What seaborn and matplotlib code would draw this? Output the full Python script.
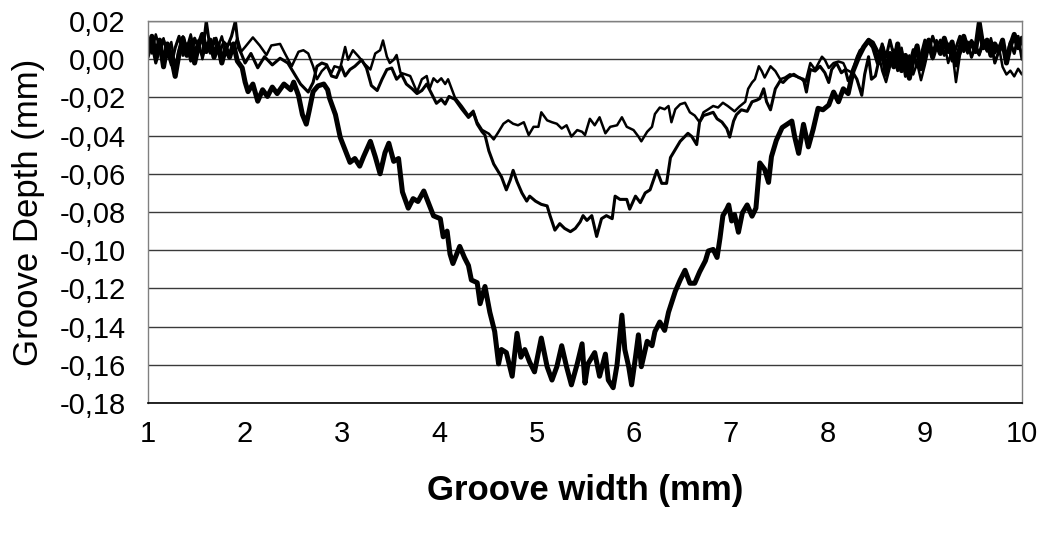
import numpy as np
import pandas as pd
import matplotlib
matplotlib.use('Agg')
import matplotlib.pyplot as plt
import seaborn as sns
from matplotlib.ticker import FuncFormatter, MultipleLocator

# profile readings (groove width in mm, depth in mm)
thin = [
    (1.00, 0.010), (1.04, 0.003), (1.08, 0.013), (1.12, 0.006), (1.16, 0.011), (1.20, 0.001),
    (1.24, 0.009), (1.28, -0.004), (1.32, 0.005), (1.36, 0.012), (1.40, 0.006), (1.44, 0.013),
    (1.48, 0.004), (1.52, 0.010), (1.56, 0.000), (1.60, 0.008), (1.64, 0.003), (1.68, 0.011),
    (1.72, 0.006), (1.76, 0.012), (1.80, 0.004), (1.84, 0.009), (1.88, 0.005), (1.92, 0.011),
    (1.96, 0.004), (2.00, 0.0064), (2.08, 0.0114), (2.15, 0.0072), (2.22, 0.0022), (2.27, 0.0072),
    (2.36, 0.0080), (2.41, 0.0030), (2.48, -0.0037), (2.55, 0.0039), (2.60, 0.0047), (2.65, 0.0030),
    (2.70, -0.0037), (2.74, -0.0105), (2.79, -0.0062), (2.84, -0.0037), (2.89, -0.0071), (2.92, -0.0037),
    (2.98, -0.0046), (3.03, 0.0064), (3.06, -0.0003), (3.11, 0.0047), (3.17, 0.0013), (3.22, -0.0020),
    (3.29, -0.0054), (3.34, 0.0030), (3.39, 0.0047), (3.42, 0.0098), (3.46, 0.0013), (3.49, -0.0020),
    (3.53, -0.0003), (3.56, 0.0022), (3.60, -0.0071), (3.65, -0.0079), (3.70, -0.0088), (3.77, -0.0172),
    (3.82, -0.0105), (3.87, -0.0088), (3.90, -0.0155), (3.94, -0.0100), (3.98, -0.0120), (4.02, -0.0100),
    (4.06, -0.0130), (4.09, -0.0105), (4.16, -0.0200), (4.23, -0.0245), (4.30, -0.0295), (4.35, -0.0270),
    (4.39, -0.0330), (4.44, -0.0370), (4.51, -0.0390), (4.56, -0.0420), (4.61, -0.0380), (4.66, -0.0338),
    (4.71, -0.0320), (4.76, -0.0338), (4.81, -0.0346), (4.87, -0.0330), (4.92, -0.0397), (4.97, -0.0354),
    (5.02, -0.0354), (5.05, -0.0278), (5.11, -0.0320), (5.16, -0.0330), (5.21, -0.0338), (5.26, -0.0363),
    (5.31, -0.0346), (5.36, -0.0405), (5.42, -0.0371), (5.47, -0.0380), (5.50, -0.0397), (5.55, -0.0312),
    (5.60, -0.0346), (5.65, -0.0304), (5.71, -0.0388), (5.76, -0.0354), (5.83, -0.0346), (5.88, -0.0304),
    (5.93, -0.0354), (6.00, -0.0371), (6.05, -0.0405), (6.08, -0.0430), (6.14, -0.0380), (6.19, -0.0354),
    (6.22, -0.0287), (6.27, -0.0253), (6.32, -0.0262), (6.36, -0.0245), (6.39, -0.0330), (6.43, -0.0262),
    (6.48, -0.0236), (6.53, -0.0228), (6.58, -0.0278), (6.63, -0.0295), (6.68, -0.0330), (6.72, -0.0278),
    (6.77, -0.0262), (6.82, -0.0245), (6.87, -0.0253), (6.92, -0.0228), (6.97, -0.0245), (7.04, -0.0273),
    (7.09, -0.0248), (7.15, -0.0223), (7.18, -0.0155), (7.22, -0.0122), (7.25, -0.0105), (7.29, -0.0037),
    (7.32, -0.0062), (7.35, -0.0096), (7.41, -0.0037), (7.46, -0.0062), (7.51, -0.0105), (7.56, -0.0096),
    (7.61, -0.0079), (7.66, -0.0088), (7.71, -0.0096), (7.77, -0.0122), (7.82, -0.0020), (7.87, -0.0054),
    (7.94, 0.0013), (7.97, -0.0003), (8.01, -0.0046), (8.06, -0.0020), (8.11, -0.0012), (8.16, -0.0020),
    (8.19, -0.0054), (8.25, -0.0071), (8.30, 0.0013), (8.33, 0.0047), (8.38, 0.0064), (8.42, 0.0106),
    (8.47, 0.0090), (8.52, 0.004), (8.56, -0.006), (8.60, -0.012), (8.64, -0.004), (8.68, 0.005),
    (8.72, -0.002), (8.76, 0.006), (8.80, -0.005), (8.84, 0.002), (8.88, -0.008), (8.92, -0.002),
    (8.96, -0.011), (9.00, -0.003), (9.04, 0.006), (9.08, 0.000), (9.12, 0.010), (9.16, 0.004),
    (9.20, 0.008), (9.24, -0.002), (9.28, 0.005), (9.32, -0.012), (9.36, 0.002), (9.40, 0.008),
    (9.44, 0.003), (9.48, 0.010), (9.52, 0.005), (9.56, 0.002), (9.60, 0.008), (9.64, 0.004),
    (9.68, 0.011), (9.72, 0.003), (9.76, 0.007), (9.80, -0.004), (9.84, -0.008), (9.88, -0.006),
    (9.92, -0.009), (9.96, -0.005), (10.00, -0.008),
]

medium = [
    (1.00, 0.001), (1.04, 0.008), (1.08, -0.002), (1.12, 0.005), (1.16, 0.010), (1.20, 0.004),
    (1.24, -0.003), (1.28, 0.006), (1.32, 0.012), (1.36, 0.002), (1.40, 0.008), (1.44, -0.001),
    (1.48, 0.011), (1.52, 0.006), (1.56, 0.002), (1.60, 0.020), (1.63, 0.009), (1.66, 0.006),
    (1.70, 0.011), (1.74, 0.004), (1.78, 0.009), (1.82, 0.007), (1.86, 0.012), (1.90, 0.020),
    (1.93, 0.006), (1.96, 0.003), (2.00, -0.002), (2.06, 0.003), (2.13, -0.0045), (2.20, 0.0013),
    (2.28, -0.003), (2.36, 0.0005), (2.44, -0.002), (2.50, -0.0071), (2.57, -0.013), (2.65, -0.0172),
    (2.70, -0.0122), (2.74, -0.0037), (2.79, -0.002), (2.84, -0.0029), (2.89, -0.0088), (2.94, -0.0096),
    (2.99, -0.0037), (3.03, -0.0088), (3.08, -0.0054), (3.13, -0.0037), (3.20, -0.0003), (3.25, -0.0046),
    (3.30, -0.0138), (3.36, -0.0164), (3.41, -0.0105), (3.46, -0.0054), (3.51, -0.0046), (3.56, -0.0105),
    (3.61, -0.0079), (3.66, -0.013), (3.72, -0.0155), (3.77, -0.018), (3.82, -0.0164), (3.87, -0.013),
    (3.92, -0.018), (3.97, -0.0231), (4.02, -0.021), (4.06, -0.0235), (4.10, -0.0195), (4.16, -0.021),
    (4.23, -0.026), (4.30, -0.0305), (4.35, -0.028), (4.39, -0.034), (4.44, -0.038), (4.47, -0.0397),
    (4.51, -0.048), (4.56, -0.0549), (4.59, -0.0574), (4.64, -0.0616), (4.69, -0.0684), (4.73, -0.0633),
    (4.76, -0.0582), (4.80, -0.0641), (4.85, -0.070), (4.90, -0.0743), (4.93, -0.0717), (4.99, -0.0743),
    (5.05, -0.076), (5.11, -0.0768), (5.14, -0.0819), (5.19, -0.0895), (5.24, -0.0861), (5.29, -0.0886),
    (5.35, -0.0903), (5.40, -0.0886), (5.45, -0.0852), (5.48, -0.0819), (5.52, -0.0844), (5.57, -0.0819),
    (5.62, -0.0928), (5.67, -0.0835), (5.72, -0.0819), (5.78, -0.0835), (5.81, -0.0717), (5.86, -0.0734),
    (5.93, -0.0734), (5.96, -0.0785), (6.02, -0.0717), (6.07, -0.0751), (6.12, -0.070), (6.17, -0.0684),
    (6.20, -0.0641), (6.24, -0.0582), (6.29, -0.065), (6.34, -0.065), (6.38, -0.0515), (6.44, -0.0464),
    (6.48, -0.043), (6.51, -0.0414), (6.56, -0.0388), (6.60, -0.0405), (6.65, -0.0447), (6.68, -0.0329),
    (6.72, -0.0295), (6.77, -0.0287), (6.82, -0.0278), (6.86, -0.0312), (6.91, -0.0329), (6.96, -0.0363),
    (6.99, -0.0408), (7.03, -0.0324), (7.06, -0.029), (7.11, -0.0265), (7.17, -0.0273), (7.22, -0.0223),
    (7.27, -0.0214), (7.30, -0.0206), (7.34, -0.0155), (7.37, -0.0223), (7.41, -0.0265), (7.46, -0.0155),
    (7.51, -0.0113), (7.54, -0.0122), (7.59, -0.0096), (7.65, -0.0079), (7.70, -0.0096), (7.75, -0.0105),
    (7.78, -0.0172), (7.82, -0.0054), (7.87, -0.0062), (7.92, -0.0037), (7.97, -0.0071), (8.01, -0.0122),
    (8.04, -0.0054), (8.09, -0.002), (8.14, -0.0071), (8.18, -0.0054), (8.21, -0.0113), (8.26, -0.0071),
    (8.30, -0.0105), (8.35, -0.0189), (8.38, -0.0079), (8.42, 0.0013), (8.45, -0.0105), (8.49, -0.0088),
    (8.52, -0.002), (8.56, 0.008), (8.60, 0.001), (8.64, 0.010), (8.68, 0.002), (8.72, -0.006),
    (8.76, 0.004), (8.80, -0.009), (8.84, -0.003), (8.88, 0.005), (8.92, -0.004), (8.96, 0.002),
    (9.00, 0.010), (9.04, 0.004), (9.08, 0.012), (9.12, 0.006), (9.16, 0.010), (9.20, 0.002),
    (9.24, 0.008), (9.28, -0.001), (9.32, 0.006), (9.36, 0.012), (9.40, 0.004), (9.44, 0.009),
    (9.48, 0.001), (9.52, 0.007), (9.56, 0.003), (9.60, 0.010), (9.64, 0.005), (9.68, 0.009),
    (9.72, -0.002), (9.76, 0.004), (9.80, 0.008), (9.84, 0.001), (9.88, 0.009), (9.92, 0.003),
    (9.96, 0.012), (10.00, 0.000),
]

deep = [
    (1.00, 0.004), (1.04, 0.012), (1.08, 0.002), (1.12, 0.010), (1.16, -0.004), (1.20, 0.008),
    (1.24, 0.001), (1.28, -0.009), (1.32, 0.003), (1.36, 0.011), (1.40, 0.002), (1.44, 0.009),
    (1.48, -0.002), (1.52, 0.007), (1.56, 0.013), (1.60, 0.004), (1.64, 0.010), (1.68, 0.001),
    (1.72, 0.008), (1.76, -0.002), (1.80, 0.006), (1.84, 0.001), (1.88, 0.008), (1.92, -0.001),
    (1.97, -0.0045), (2.00, -0.012), (2.03, -0.017), (2.08, -0.013), (2.13, -0.022), (2.18, -0.016),
    (2.23, -0.0195), (2.28, -0.0146), (2.33, -0.018), (2.40, -0.013), (2.47, -0.016), (2.50, -0.012),
    (2.55, -0.019), (2.59, -0.029), (2.63, -0.034), (2.66, -0.027), (2.70, -0.017), (2.75, -0.014),
    (2.81, -0.013), (2.85, -0.016), (2.87, -0.0205), (2.93, -0.029), (2.98, -0.041), (3.03, -0.0475),
    (3.08, -0.054), (3.13, -0.052), (3.18, -0.056), (3.22, -0.051), (3.29, -0.043), (3.34, -0.051),
    (3.39, -0.060), (3.44, -0.049), (3.48, -0.044), (3.53, -0.0535), (3.58, -0.052), (3.62, -0.0695),
    (3.68, -0.078), (3.73, -0.073), (3.78, -0.0745), (3.84, -0.069), (3.89, -0.0755), (3.94, -0.082),
    (4.01, -0.0835), (4.04, -0.093), (4.08, -0.090), (4.11, -0.102), (4.14, -0.107), (4.21, -0.098),
    (4.26, -0.104), (4.30, -0.108), (4.33, -0.1156), (4.39, -0.117), (4.42, -0.128), (4.47, -0.119),
    (4.52, -0.1325), (4.57, -0.1426), (4.61, -0.1595), (4.64, -0.152), (4.69, -0.1536), (4.75, -0.166),
    (4.80, -0.1435), (4.84, -0.156), (4.88, -0.152), (4.93, -0.1586), (4.98, -0.1637), (5.05, -0.146),
    (5.11, -0.161), (5.16, -0.168), (5.21, -0.161), (5.26, -0.150), (5.31, -0.161), (5.36, -0.1705),
    (5.42, -0.1595), (5.47, -0.149), (5.50, -0.1696), (5.53, -0.1595), (5.60, -0.1536), (5.65, -0.166),
    (5.71, -0.1544), (5.74, -0.168), (5.79, -0.172), (5.83, -0.160), (5.88, -0.134), (5.91, -0.152),
    (5.95, -0.161), (5.98, -0.1705), (6.02, -0.156), (6.05, -0.1443), (6.08, -0.161), (6.14, -0.1477),
    (6.19, -0.150), (6.22, -0.1426), (6.27, -0.1376), (6.32, -0.142), (6.36, -0.1325), (6.43, -0.1215),
    (6.48, -0.1156), (6.53, -0.1105), (6.58, -0.1173), (6.63, -0.1173), (6.68, -0.1114), (6.74, -0.1055),
    (6.77, -0.1004), (6.82, -0.0996), (6.86, -0.1038), (6.89, -0.0937), (6.92, -0.0819), (6.96, -0.0785),
    (6.98, -0.0763), (7.01, -0.0847), (7.04, -0.0813), (7.08, -0.0906), (7.12, -0.0805), (7.17, -0.0763),
    (7.22, -0.0822), (7.26, -0.078), (7.30, -0.0543), (7.35, -0.0577), (7.39, -0.0645), (7.42, -0.051),
    (7.47, -0.0425), (7.53, -0.0358), (7.58, -0.0341), (7.63, -0.0324), (7.66, -0.0408), (7.70, -0.0493),
    (7.75, -0.0341), (7.80, -0.0459), (7.85, -0.0366), (7.90, -0.0257), (7.95, -0.0265), (8.01, -0.024),
    (8.06, -0.0172), (8.11, -0.0223), (8.16, -0.0155), (8.21, -0.018), (8.26, -0.0062), (8.32, 0.0014),
    (8.37, 0.0064), (8.42, 0.0098), (8.47, 0.0064), (8.52, -0.002), (8.56, 0.006), (8.60, -0.008),
    (8.64, 0.003), (8.68, -0.004), (8.72, 0.008), (8.76, -0.006), (8.80, 0.002), (8.84, -0.010),
    (8.88, 0.000), (8.92, 0.007), (8.96, -0.005), (9.00, 0.004), (9.04, 0.010), (9.08, 0.001),
    (9.12, 0.008), (9.16, 0.003), (9.20, 0.011), (9.24, 0.004), (9.28, 0.009), (9.32, -0.003),
    (9.36, 0.006), (9.40, 0.012), (9.44, 0.005), (9.48, 0.009), (9.52, 0.004), (9.56, 0.019),
    (9.60, 0.006), (9.64, 0.010), (9.68, 0.002), (9.72, 0.008), (9.76, 0.004), (9.80, 0.010),
    (9.84, -0.002), (9.88, 0.007), (9.92, 0.013), (9.96, 0.006), (10.00, 0.011),
]

x_ticks = [1, 2, 3, 4, 5, 6, 7, 8, 9, 10]

sns.set_theme(style='white')
plt.rcParams['font.family'] = ['Liberation Sans', 'DejaVu Sans']

fig = plt.figure(figsize=(10.45, 5.36), dpi=100)
ax = fig.add_axes([148 / 1045, 1 - 403 / 536, 874 / 1045, 382 / 536])

for pts, lw in [(thin, 1.8), (medium, 2.2), (deep, 3.6)]:
    df = pd.DataFrame(pts, columns=['width', 'depth'])
    sns.lineplot(data=df, x='width', y='depth', color='black', linewidth=lw,
                 estimator=None, sort=False, ax=ax)

ax.set_xlim(1, 10)
ax.set_ylim(-0.18, 0.02)
ax.set_xticks(x_ticks)
ax.yaxis.set_major_locator(MultipleLocator(0.02))
ax.yaxis.set_major_formatter(FuncFormatter(lambda v, p: f"{round(v, 2) + 0:.2f}".replace('.', ',')))
ax.grid(axis='y', color='#3a3a3a', linewidth=1.0)
ax.grid(axis='x', visible=False)
ax.tick_params(length=0, labelsize=21, colors='black')
ax.tick_params(axis='x', pad=12)
ax.tick_params(axis='y', pad=16)

for side in ['left', 'top', 'right']:
    ax.spines[side].set_color('#808080')
    ax.spines[side].set_linewidth(1.0)
ax.spines['bottom'].set_color('black')
ax.spines['bottom'].set_linewidth(1.2)

ax.set_xlabel('Groove width (mm)', fontsize=25, fontweight='bold', color='black')
ax.set_ylabel('Groove Depth (mm)', fontsize=25, color='black')
ax.xaxis.set_label_coords(0.5, -0.185)
ax.yaxis.set_label_coords(-0.118, 0.5)

fig.savefig('out.png', dpi=100)
